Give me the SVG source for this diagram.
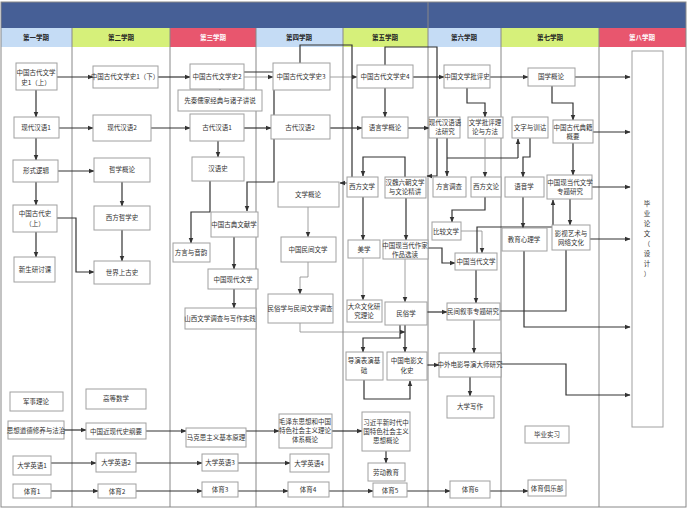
<svg xmlns="http://www.w3.org/2000/svg" width="688" height="511" viewBox="0 0 688 511">
<style>
.n rect{fill:#fff;stroke:#a0a0a0;stroke-width:1}
.n text,.h text{font-family:"Noto Sans CJK SC","Liberation Sans",sans-serif;font-size:6.5px;fill:#333;text-anchor:middle}
.h text{font-weight:bold;fill:#222}
.c path{fill:none;stroke:#333;stroke-width:1.2;marker-end:url(#a)}
.c path.t{stroke:#888;stroke-width:0.8}
.c path.nm{marker-end:none}
.col{stroke:#888;stroke-width:1}
</style>
<defs><marker id="a" viewBox="0 0 10 10" refX="9" refY="5" markerWidth="6" markerHeight="6" orient="auto" markerUnits="userSpaceOnUse"><path d="M0,1 L10,5 L0,9z" fill="#333"/></marker></defs>
<rect x="0" y="0" width="688" height="511" fill="#fff"/>
<rect x="1" y="2" width="685" height="26" fill="#465f96"/>
<g class="h">
<rect x="1" y="28" width="71" height="19" fill="#c5dcf5"/><text x="36" y="40">第一学期</text>
<rect x="72" y="28" width="98" height="19" fill="#d6f07a"/><text x="121" y="40">第二学期</text>
<rect x="170" y="28" width="86" height="19" fill="#e8566e"/><text x="213" y="40" style="fill:#fff">第三学期</text>
<rect x="256" y="28" width="87" height="19" fill="#c5dcf5"/><text x="299" y="40">第四学期</text>
<rect x="343" y="28" width="85" height="19" fill="#d6f07a"/><text x="385" y="40">第五学期</text>
<rect x="428" y="28" width="73" height="19" fill="#c5dcf5"/><text x="464" y="40">第六学期</text>
<rect x="501" y="28" width="98" height="19" fill="#d6f07a"/><text x="550" y="40">第七学期</text>
<rect x="599" y="28" width="87" height="19" fill="#e8566e"/><text x="642" y="40" style="fill:#fff">第八学期</text>
</g>
<g>
<line class="col" x1="72" y1="28" x2="72" y2="507"/><line class="col" x1="170" y1="28" x2="170" y2="507"/>
<line class="col" x1="256" y1="28" x2="256" y2="507"/><line class="col" x1="343" y1="28" x2="343" y2="507"/>
<line class="col" x1="428" y1="2" x2="428" y2="507"/><line class="col" x1="501" y1="28" x2="501" y2="507"/>
<line class="col" x1="599" y1="28" x2="599" y2="507"/>
<rect x="1" y="2" width="685" height="505" fill="none" stroke="#888"/>
</g>
<g class="c">
<path d="M57,77H93"/><path d="M158,77H190"/><path class="t" d="M244,77H273"/><path class="t" d="M330,77H357"/>
<path d="M413,77H444"/><path d="M490,77H528"/><path d="M575,77H630"/>
<path d="M36,90V117"/><path d="M59,128H93"/><path d="M151,128H190"/><path d="M244,128H271"/><path d="M330,128H362"/><path d="M408,128H429"/>
<path d="M36,138V160"/><path d="M58,171H94"/><path d="M36,182V205"/><path d="M36,232V257"/>
<path d="M57,218H76V272H94"/><path d="M122,182V206"/><path d="M122,230V261"/>
<path d="M218,141V157"/><path d="M210,181V212H191V243"/>
<path d="M300,63V45H352V183H340"/>
<path d="M220,90V72H274V182H247V211"/>
<path d="M385,65V47H437V176H427"/><path d="M385,88V117"/>
<path d="M405,177V157H363V176"/>
<path d="M447,138V176"/><path class="nm" d="M447,158H518"/><path d="M518,158V139"/>
<path d="M467,88V103H485V117"/><path class="t" d="M485,138V177"/>
<path d="M530,138V157H523V177"/>
<path d="M552,86V103H573V120"/><path d="M593,132H630"/><path d="M573,143V175"/><path d="M592,187H630"/><path d="M570,199V225"/>
<path d="M485,197V210H452V222"/><path class="t" d="M461,231H482V253"/>
<path d="M477,253V227H553V200"/>
<path d="M523,197V228"/><path d="M524,251V327H630"/>
<path d="M500,311H566V239H630"/><path d="M501,364H566V395H630"/>
<path d="M406,198V240"/><path d="M363,197V240"/><path class="t" d="M363,258V300"/><path class="t" d="M405,259V302"/>
<path d="M428,248H442V263H455"/><path d="M476,270V303"/><path d="M427,312H447"/><path d="M474,320V353"/>
<path d="M400,325V338H363V352"/><path d="M405,325V352"/>
<path class="t" d="M300,323V332H405"/>
<path d="M427,365H439"/><path d="M364,380V399H410V381"/><path d="M470,377V396"/>
<path class="t" d="M308,207V237"/><path class="t" d="M308,262V277H300V294"/>
<path d="M234,237V269"/><path d="M234,289V308"/>
<path d="M64,430H86"/><path d="M146,431H186"/><path d="M246,431H279"/><path d="M332,431H362"/><path d="M386,451V463"/>
<path d="M51,463H96"/><path d="M136,463H202"/><path d="M238,463H290"/>
<path d="M51,491H98"/><path d="M136,491H202"/><path d="M238,491H288"/><path d="M329,491H373"/><path d="M407,491H450"/><path d="M490,491H528"/>
</g>
<g id="n1" class="n"><rect x="16" y="63" width="41" height="27"/><text x="36" y="75">中国古代文学</text><text x="36" y="85">史1（上）</text></g>
<g id="n2" class="n"><rect x="14" y="117" width="45" height="21"/><text x="36" y="130">现代汉语1</text></g>
<g id="n3" class="n"><rect x="13" y="160" width="45" height="22"/><text x="36" y="173">形式逻辑</text></g>
<g id="n4" class="n"><rect x="13" y="205" width="44" height="27"/><text x="35" y="216">中国古代史</text><text x="35" y="226">（上）</text></g>
<g id="n5" class="n"><rect x="14" y="257" width="41" height="25"/><text x="35" y="272">新生研讨课</text></g>
<g id="n6" class="n"><rect x="10" y="392" width="53" height="19"/><text x="36" y="404">军事理论</text></g>
<g id="n7" class="n"><rect x="8" y="421" width="56" height="18"/><text x="36" y="433">思想道德修养与法治</text></g>
<g id="n8" class="n"><rect x="13" y="456" width="38" height="19"/><text x="32" y="468">大学英语1</text></g>
<g id="n9" class="n"><rect x="13" y="484" width="38" height="14"/><text x="32" y="494">体育1</text></g>
<g id="n10" class="n"><rect x="93" y="66" width="65" height="22"/><text x="125" y="79">中国古代文学史1（下）</text></g>
<g id="n11" class="n"><rect x="93" y="115" width="58" height="26"/><text x="122" y="130">现代汉语2</text></g>
<g id="n12" class="n"><rect x="94" y="158" width="56" height="24"/><text x="122" y="172">哲学概论</text></g>
<g id="n13" class="n"><rect x="94" y="206" width="56" height="24"/><text x="122" y="220">西方哲学史</text></g>
<g id="n14" class="n"><rect x="94" y="261" width="56" height="23"/><text x="122" y="275">世界上古史</text></g>
<g id="n15" class="n"><rect x="86" y="389" width="60" height="20"/><text x="116" y="401">高等数学</text></g>
<g id="n16" class="n"><rect x="86" y="423" width="60" height="16"/><text x="116" y="434">中国近现代史纲要</text></g>
<g id="n17" class="n"><rect x="96" y="453" width="40" height="19"/><text x="116" y="465">大学英语2</text></g>
<g id="n18" class="n"><rect x="98" y="484" width="38" height="14"/><text x="117" y="494">体育2</text></g>
<g id="n19" class="n"><rect x="190" y="64" width="54" height="25"/><text x="217" y="79">中国古代文学史2</text></g>
<g id="n20" class="n"><rect x="178" y="90" width="84" height="21"/><text x="220" y="103">先秦儒家经典与诸子讲说</text></g>
<g id="n21" class="n"><rect x="190" y="114" width="54" height="27"/><text x="217" y="130">古代汉语1</text></g>
<g id="n22" class="n"><rect x="192" y="157" width="52" height="24"/><text x="218" y="171">汉语史</text></g>
<g id="n23" class="n"><rect x="173" y="243" width="37" height="19"/><text x="191" y="255">方言与音韵</text></g>
<g id="n24" class="n"><rect x="211" y="212" width="47" height="25"/><text x="234" y="227">中国古典文献学</text></g>
<g id="n25" class="n"><rect x="208" y="269" width="50" height="20"/><text x="233" y="282">中国现代文学</text></g>
<g id="n26" class="n"><rect x="185" y="308" width="71" height="21"/><text x="220" y="321">山西文学调查与写作实践</text></g>
<g id="n27" class="n"><rect x="186" y="428" width="60" height="19"/><text x="216" y="440">马克思主义基本原理</text></g>
<g id="n28" class="n"><rect x="202" y="454" width="36" height="17"/><text x="220" y="465">大学英语3</text></g>
<g id="n29" class="n"><rect x="202" y="482" width="36" height="15"/><text x="220" y="492">体育3</text></g>
<g id="n30" class="n"><rect x="273" y="63" width="57" height="27"/><text x="301" y="79">中国古代文学史3</text></g>
<g id="n31" class="n"><rect x="271" y="115" width="59" height="24"/><text x="300" y="130">古代汉语2</text></g>
<g id="n32" class="n"><rect x="278" y="182" width="61" height="25"/><text x="308" y="197">文学概论</text></g>
<g id="n33" class="n"><rect x="281" y="237" width="55" height="25"/><text x="308" y="252">中国民间文学</text></g>
<g id="n34" class="n"><rect x="268" y="294" width="65" height="29"/><text x="300" y="311">民俗学与民间文学调查</text></g>
<g id="n35" class="n"><rect x="279" y="414" width="53" height="34"/><text x="305" y="424">毛泽东思想和中国</text><text x="305" y="433">特色社会主义理论</text><text x="305" y="442">体系概论</text></g>
<g id="n36" class="n"><rect x="290" y="454" width="39" height="18"/><text x="309" y="466">大学英语4</text></g>
<g id="n37" class="n"><rect x="288" y="482" width="41" height="15"/><text x="308" y="492">体育4</text></g>
<g id="n38" class="n"><rect x="357" y="65" width="56" height="23"/><text x="385" y="79">中国古代文学史4</text></g>
<g id="n39" class="n"><rect x="362" y="117" width="46" height="21"/><text x="385" y="130">语言学概论</text></g>
<g id="n40" class="n"><rect x="347" y="177" width="31" height="20"/><text x="362" y="189">西方文学</text></g>
<g id="n41" class="n"><rect x="385" y="177" width="41" height="21"/><text x="405" y="185">汉魏六朝文学</text><text x="405" y="194">与文论精讲</text></g>
<g id="n42" class="n"><rect x="348" y="240" width="32" height="18"/><text x="364" y="252">美学</text></g>
<g id="n43" class="n"><rect x="383" y="240" width="45" height="19"/><text x="405" y="248">中国现当代作家</text><text x="405" y="257">作品选读</text></g>
<g id="n44" class="n"><rect x="347" y="300" width="35" height="22"/><text x="364" y="309">大众文化研</text><text x="364" y="318">究理论</text></g>
<g id="n45" class="n"><rect x="385" y="302" width="42" height="23"/><text x="406" y="316">民俗学</text></g>
<g id="n46" class="n"><rect x="346" y="352" width="37" height="28"/><text x="364" y="363">导演表演基</text><text x="364" y="373">础</text></g>
<g id="n47" class="n"><rect x="387" y="352" width="40" height="28"/><text x="407" y="363">中国电影文</text><text x="407" y="373">化史</text></g>
<g id="n48" class="n"><rect x="362" y="412" width="48" height="39"/><text x="386" y="425">习近平新时代中</text><text x="386" y="434">国特色社会主义</text><text x="386" y="443">思想概论</text></g>
<g id="n49" class="n"><rect x="368" y="463" width="37" height="18"/><text x="386" y="475">劳动教育</text></g>
<g id="n50" class="n"><rect x="373" y="483" width="34" height="14"/><text x="390" y="493">体育5</text></g>
<g id="n51" class="n"><rect x="444" y="65" width="46" height="23"/><text x="467" y="79">中国文学批评史</text></g>
<g id="n52" class="n"><rect x="429" y="117" width="31" height="21"/><text x="445" y="125">现代汉语语</text><text x="445" y="134">法研究</text></g>
<g id="n53" class="n"><rect x="468" y="117" width="35" height="21"/><text x="485" y="125">文学批评理</text><text x="485" y="134">论与方法</text></g>
<g id="n54" class="n"><rect x="433" y="177" width="33" height="20"/><text x="449" y="189">方言调查</text></g>
<g id="n55" class="n"><rect x="471" y="177" width="30" height="20"/><text x="486" y="189">西方文论</text></g>
<g id="n56" class="n"><rect x="432" y="222" width="29" height="18"/><text x="446" y="234">比较文学</text></g>
<g id="n57" class="n"><rect x="455" y="253" width="42" height="17"/><text x="476" y="264">中国当代文学</text></g>
<g id="n58" class="n"><rect x="447" y="303" width="53" height="17"/><text x="473" y="314">民间叙事专题研究</text></g>
<g id="n59" class="n"><rect x="439" y="353" width="62" height="24"/><text x="470" y="367">中外电影导演大师研究</text></g>
<g id="n60" class="n"><rect x="447" y="396" width="47" height="22"/><text x="470" y="409">大学写作</text></g>
<g id="n61" class="n"><rect x="450" y="481" width="40" height="17"/><text x="470" y="492">体育6</text></g>
<g id="n62" class="n"><rect x="528" y="68" width="47" height="18"/><text x="551" y="79">国学概论</text></g>
<g id="n63" class="n"><rect x="512" y="117" width="36" height="21"/><text x="530" y="130">文字与训诂</text></g>
<g id="n64" class="n"><rect x="553" y="120" width="40" height="23"/><text x="573" y="130">中国古代典籍</text><text x="573" y="139">概要</text></g>
<g id="n65" class="n"><rect x="505" y="177" width="39" height="20"/><text x="524" y="189">语音学</text></g>
<g id="n66" class="n"><rect x="547" y="175" width="45" height="24"/><text x="570" y="185">中国现当代文学</text><text x="570" y="194">专题研究</text></g>
<g id="n67" class="n"><rect x="502" y="228" width="45" height="23"/><text x="524" y="242">教育心理学</text></g>
<g id="n68" class="n"><rect x="552" y="225" width="38" height="25"/><text x="571" y="236">影视艺术与</text><text x="571" y="245">网络文化</text></g>
<g id="n69" class="n"><rect x="525" y="426" width="44" height="17"/><text x="547" y="437">毕业实习</text></g>
<g id="n70" class="n"><rect x="528" y="480" width="38" height="16"/><text x="547" y="491">体育俱乐部</text></g>
<g id="n71" class="n"><rect x="632" y="51" width="31" height="376"/>
<text x="647" y="206">毕</text><text x="647" y="216">业</text><text x="647" y="226">论</text><text x="647" y="236">文</text><text x="647" y="246">（</text><text x="647" y="256">设</text><text x="647" y="266">计</text><text x="647" y="276">）</text></g>
</svg>
